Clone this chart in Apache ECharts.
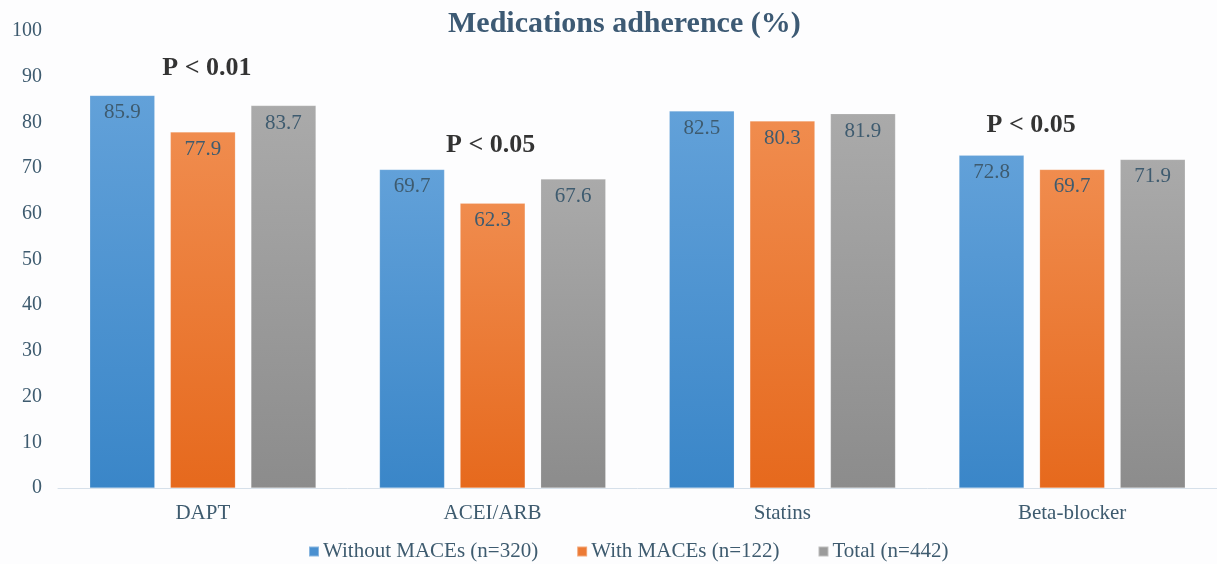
<!DOCTYPE html>
<html>
<head>
<meta charset="utf-8">
<title>Medications adherence (%)</title>
<script src="https://cdn.jsdelivr.net/npm/echarts@6/dist/echarts.min.js"></script>
<style>
  html, body { margin: 0; padding: 0; background: #fdfdfe; }
  #chart { width: 1217px; height: 564px; }
</style>
</head>
<body>
<div id="chart"></div>
<script>
// Medication classes on the x axis
const categories = ['DAPT', 'ACEI/ARB', 'Statins', 'Beta-blocker'];

// Adherence (%) by group
const seriesNames = ['Without MACEs (n=320)', 'With MACEs (n=122)', 'Total (n=442)'];
const withoutMaces = [85.9, 69.7, 82.5, 72.8];
const withMaces = [77.9, 62.3, 80.3, 69.7];
const total = [83.7, 67.6, 81.9, 71.9];

// Significance notes per class (empty = none)
const pValues = ['P < 0.01', 'P < 0.05', '', 'P < 0.05'];

// Y axis ticks
const yTicks = [0, 10, 20, 30, 40, 50, 60, 70, 80, 90, 100];

const SERIF = '"Liberation Serif", "Times New Roman", serif';
const TEXT = '#3e5b6f';

function grad(top, bottom) {
  return new echarts.graphic.LinearGradient(0, 0, 0, 1, [
    { offset: 0, color: top },
    { offset: 1, color: bottom }
  ]);
}

const palette = [
  grad('#62a1d9', '#3a86c8'),
  grad('#f08c4e', '#e6691d'),
  grad('#aaaaaa', '#8c8c8c')
];
const legendColors = ['#4a90d0', '#ec7a35', '#9b9b9b'];

function barSeries(name, values, i) {
  return {
    name: name,
    type: 'bar',
    data: values,
    barWidth: 65,
    barGap: '24%',
    itemStyle: { color: palette[i], borderColor: 'rgba(255,255,255,0.35)', borderWidth: 0.5 },
    label: {
      show: true,
      position: 'insideTop',
      distance: 7,
      fontFamily: SERIF,
      fontSize: 21,
      color: TEXT,
      formatter: p => p.value.toFixed(1)
    }
  };
}

// Annotation anchored on the tallest bar of each class
const groupMax = categories.map((c, i) => Math.max(withoutMaces[i], withMaces[i], total[i]));
const noteOffsets = [[4, -14], [-2, -11], [0, -14], [-41, -17]];

const chart = echarts.init(document.getElementById('chart'));
chart.setOption({
  backgroundColor: '#fdfdfe',
  animation: false,
  title: {
    text: 'Medications adherence (%)',
    left: 443,
    top: 4,
    textStyle: { fontFamily: SERIF, fontSize: 30, fontWeight: 'bold', color: '#3d5a74' }
  },
  legend: {
    data: seriesNames.map((n, i) => ({ name: n, itemStyle: { color: legendColors[i] } })),
    top: 536,
    left: 303,
    itemWidth: 10,
    itemHeight: 10,
    itemGap: 38,
    icon: 'rect',
    textStyle: { fontFamily: SERIF, fontSize: 21, color: TEXT, padding: [0, 0, 0, -1] }
  },
  grid: { left: 58, right: -7, top: 31, bottom: 76 },
  xAxis: {
    type: 'category',
    data: categories,
    axisTick: { show: false },
    axisLine: { lineStyle: { color: '#d6e0ea', width: 1 } },
    axisLabel: { fontFamily: SERIF, fontSize: 21, color: TEXT, margin: 15 }
  },
  yAxis: {
    type: 'value',
    min: yTicks[0],
    max: yTicks[yTicks.length - 1],
    interval: yTicks[1] - yTicks[0],
    axisLine: { show: false },
    axisTick: { show: false },
    splitLine: { show: false },
    axisLabel: { fontFamily: SERIF, fontSize: 20, color: TEXT, margin: 16 }
  },
  series: [
    barSeries(seriesNames[0], withoutMaces, 0),
    barSeries(seriesNames[1], withMaces, 1),
    barSeries(seriesNames[2], total, 2),
    {
      type: 'scatter',
      symbolSize: 0,
      silent: true,
      data: categories.map((c, i) => ({
        value: [c, groupMax[i]],
        label: { offset: noteOffsets[i] }
      })),
      label: {
        show: true,
        position: 'top',
        distance: 0,
        fontFamily: SERIF,
        fontSize: 26,
        fontWeight: 'bold',
        color: '#000',
        formatter: p => pValues[p.dataIndex]
      }
    }
  ]
});
</script>
</body>
</html>
